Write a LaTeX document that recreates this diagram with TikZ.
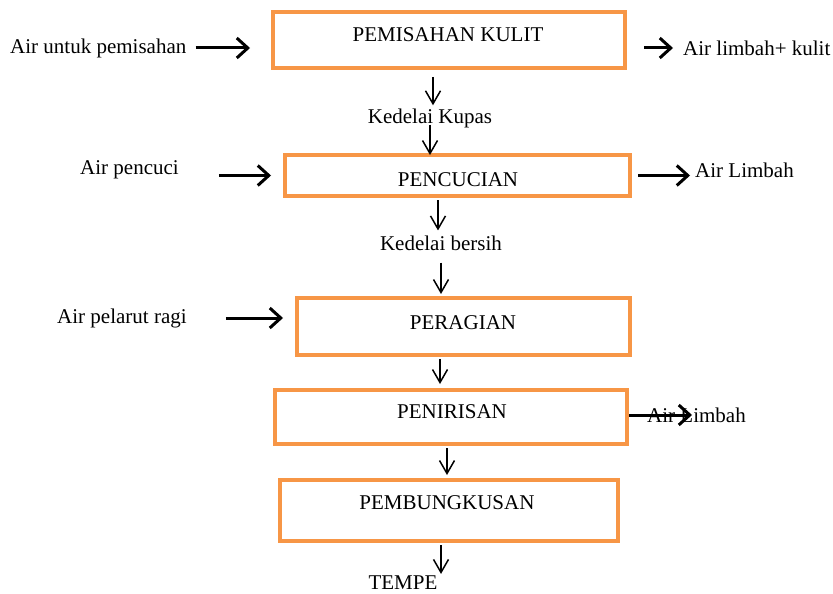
\documentclass[tikz,border=0pt]{standalone}
\usepackage{fontspec}
\setmainfont{Liberation Serif}
\usetikzlibrary{arrows.meta}
\definecolor{boxorange}{HTML}{F79646}
\begin{document}
\begin{tikzpicture}[x=1pt,y=-1pt,
  box/.style={draw=boxorange,line width=4pt,rectangle,inner sep=0pt},
  lbl/.style={font=\fontsize{21}{25}\selectfont,inner sep=0pt},
  downarr/.style={-{Straight Barb[length=13pt,width=15pt,line width=1.5pt]},line width=1.5pt},
  sidearr/.style={-{Straight Barb[length=11pt,width=20pt,line width=3pt]},line width=3pt}]
\useasboundingbox (0,0) rectangle (833,594);
% boxes
\node[box,minimum width=352pt,minimum height=56pt] (b1) at (449,40) {};
\node[box,minimum width=345pt,minimum height=41pt] (b2) at (457.5,175.5) {};
\node[box,minimum width=333pt,minimum height=57pt] (b3) at (463.5,326.5) {};
\node[box,minimum width=352pt,minimum height=54pt] (b4) at (451,417) {};
\node[box,minimum width=338pt,minimum height=61pt] (b5) at (449,510.5) {};
% box texts
\node[lbl] (l1) at (448,35) {PEMISAHAN KULIT};
\node[lbl] (l2) at (458,180) {PENCUCIAN};
\node[lbl] (l3) at (463,323) {PERAGIAN};
\node[lbl] (l4) at (452,412) {PENIRISAN};
\node[lbl] (l5) at (447,503) {PEMBUNGKUSAN};
% side texts
\node[lbl,anchor=west] (in1) at (10,48) {Air untuk pemisahan};
\node[lbl,anchor=west] (out1) at (683,48) {Air limbah+ kulit};
\node[lbl,anchor=west] (in2) at (80,170) {Air pencuci};
\node[lbl,anchor=west] (out2) at (695,170) {Air Limbah};
\node[lbl,anchor=west] (in3) at (57,318) {Air pelarut ragi};
\node[lbl,anchor=west] (out4) at (647,415) {Air Limbah};
% intermediate texts
\node[lbl] (k1) at (430,118) {Kedelai Kupas};
\node[lbl] (k2) at (441,243) {Kedelai bersih};
\node[lbl] (tempe) at (403,583) {TEMPE};
% side arrows
\draw[sidearr,shorten <=9pt,shorten >=21pt] (in1.east) -- (in1.east -| b1.west);
\draw[sidearr,shorten <=17pt,shorten >=10pt] (b1.east |- out1.west) -- (out1.west);
\draw[sidearr,shorten <=40pt,shorten >=12pt] (in2.east |- b2.west) -- (b2.west);
\draw[sidearr,shorten <=6pt,shorten >=5pt] (b2.east) -- (out2.west |- b2.east);
\draw[sidearr,shorten <=39pt,shorten >=12pt] (in3.east) -- (in3.east -| b3.west);
\draw[sidearr,shorten >=-45pt] (b4.east |- out4.west) -- (out4.west);
% down arrows
\draw[downarr,shorten <=7pt,shorten >=3pt] ([xshift=-16pt]b1.south) -- ([xshift=-16pt]b1.south |- k1.north);
\draw[downarr,shorten <=-3pt,shorten >=-2pt] (k1.south) -- (k1.south |- b2.north);
\draw[downarr,shorten <=2pt,shorten >=5pt] ([xshift=-19.5pt]b2.south) -- ([xshift=-19.5pt]b2.south |- k2.north);
\draw[downarr,shorten <=12pt,shorten >=2pt] (k2.south) -- (k2.south |- b3.north);
\draw[downarr,shorten <=2pt,shorten >=4pt] ([xshift=-23.5pt]b3.south) -- ([xshift=-23.5pt]b3.south |- b4.north);
\draw[downarr,shorten <=2pt,shorten >=3pt] ([xshift=-4pt]b4.south) -- ([xshift=-4pt]b4.south |- b5.north);
\draw[downarr,shorten <=2pt,shorten >=2pt] ([xshift=-8pt]b5.south) -- ([xshift=-8pt]b5.south |- tempe.north);
\end{tikzpicture}
\end{document}
